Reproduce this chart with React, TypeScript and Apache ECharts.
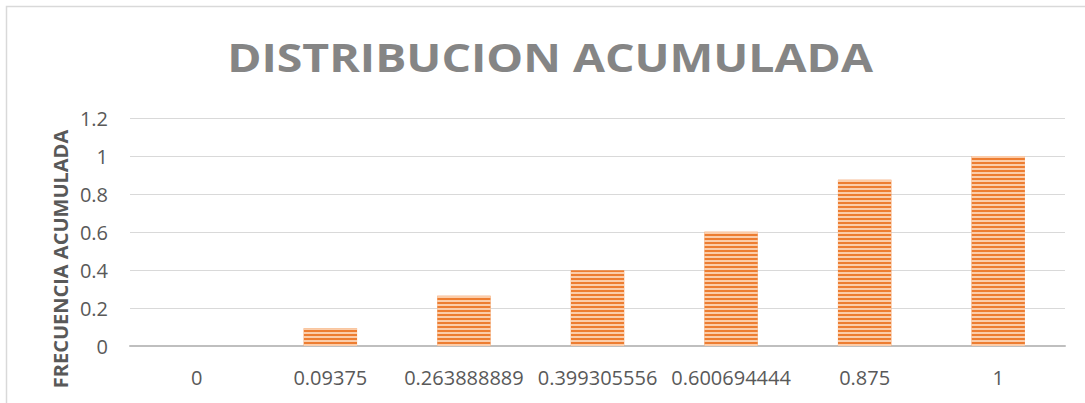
import React, { useEffect, useRef } from "react";
import * as echarts from "echarts";

const categories = ["0", "0.09375", "0.263888889", "0.399305556", "0.600694444", "0.875", "1"];
const values = [0, 0.09375, 0.263888889, 0.399305556, 0.600694444, 0.875, 1];
const titleText = "DISTRIBUCION ACUMULADA";
const yAxisTitle = "FRECUENCIA ACUMULADA";

export default function App() {
  const ref = useRef<HTMLDivElement>(null);
  useEffect(() => {
    if (!ref.current) return;
    const chart = echarts.init(ref.current, undefined, { renderer: "svg" });
    chart.setOption({
      animation: false,
      backgroundColor: "#ffffff",
      grid: { left: 130, right: 20, top: 118, bottom: 57 },
      xAxis: {
        type: "category",
        data: categories,
        axisLine: { show: true, lineStyle: { color: "#bfbfbf", width: 2 } },
        axisTick: { show: false },
        axisLabel: {
          color: "#595959",
          fontSize: 20,
          fontFamily: "Open Sans",
          margin: 21,
          interval: 0,
        },
      },
      yAxis: {
        type: "value",
        min: 0,
        max: 1.2,
        interval: 0.2,
        axisLine: { show: false },
        axisTick: { show: false },
        splitLine: { lineStyle: { color: "#d9d9d9", width: 1 } },
        axisLabel: {
          color: "#595959",
          fontSize: 20,
          fontFamily: "Open Sans",
          margin: 22,
          formatter: (v: number) => String(Math.round(v * 10) / 10),
        },
      },
      graphic: [
        {
          type: "rect",
          shape: { x: 6.5, y: 6.5, width: 1200, height: 600 },
          style: { fill: "none", stroke: "#d9d9d9", lineWidth: 1.5 },
          silent: true,
        },
        {
          type: "text",
          x: 550,
          y: 57,
          scaleX: 1.16,
          style: {
            text: titleText,
            fontFamily: "Open Sans",
            fontWeight: "bold",
            fontSize: 40,
            fill: "#858585",
            align: "center",
            verticalAlign: "middle",
          },
        },
        {
          type: "text",
          x: 60,
          y: 259,
          rotation: Math.PI / 2,
          style: {
            text: yAxisTitle,
            fontFamily: "Open Sans",
            fontWeight: "bold",
            fontSize: 20,
            fill: "#595959",
            align: "center",
            verticalAlign: "middle",
          },
        },
      ],
      series: [
        {
          type: "bar",
          data: values,
          barWidth: "40%",
          itemStyle: {
            color: "#ED7D31",
            decal: {
              symbol: "rect",
              symbolSize: 1,
              dashArrayX: [1, 0],
              dashArrayY: [2, 2],
              rotation: 0,
              color: "rgba(255, 225, 200, 0.8)",
            },
          },
        },
      ],
    });
    return () => chart.dispose();
  }, []);
  return (
    <div
      ref={ref}
      style={{ position: "fixed", left: 0, top: 0, width: 1085, height: 403 }}
    />
  );
}
